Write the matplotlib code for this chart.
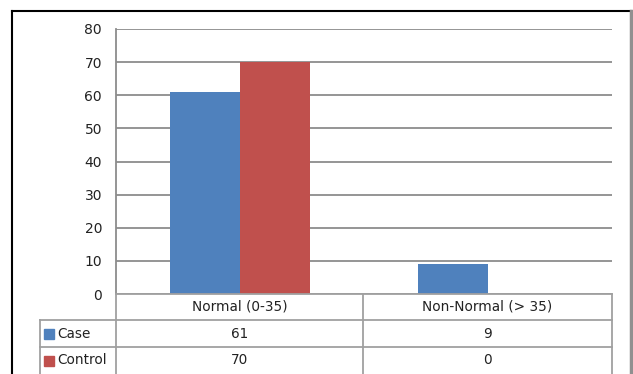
import matplotlib
matplotlib.use('Agg')
import matplotlib.pyplot as plt
from matplotlib.patches import Rectangle
from matplotlib.lines import Line2D

# Data
categories = ['Normal (0-35)', 'Non-Normal (> 35)']
series_names = ['Case', 'Control']
case_values = [61, 9]
control_values = [70, 0]
colors = ['#4F81BD', '#C0504D']

W, H = 633, 374
fig = plt.figure(figsize=(W / 100, H / 100), dpi=100)

def fx(px):
    return px / W

def fy(py):
    return 1 - py / H

# Plot area in pixel coordinates
left, right, top, bottom = 116, 612, 29, 294
ax = fig.add_axes([fx(left), fy(bottom), fx(right - left), fy(top) - fy(bottom)])

x = range(len(categories))
bar_w = 0.283
ax.bar([i - bar_w / 2 for i in x], case_values, width=bar_w, color=colors[0], zorder=3)
ax.bar([i + bar_w / 2 for i in x], control_values, width=bar_w, color=colors[1], zorder=3)

ax.set_xlim(-0.5, len(categories) - 0.5)
ax.set_ylim(0, 80)
ax.set_yticks(range(0, 81, 10))
ax.yaxis.grid(True, color='#8c8c8c', linewidth=1.3, zorder=0)
ax.set_xticks([])
ax.tick_params(axis='y', length=0, pad=10, labelsize=10, labelcolor='#222222')
for s in ['top', 'right', 'bottom']:
    ax.spines[s].set_visible(False)
ax.spines['left'].set_color('#8c8c8c')
ax.spines['left'].set_linewidth(1.3)

# Data table under the chart
line_col = '#a0a0a0'
row_y = [294, 320, 347, 374]
col_x = [40, 116, 363, 612]

def hline(y, x0, x1):
    fig.add_artist(Line2D([fx(x0), fx(x1)], [fy(y), fy(y)], color=line_col, lw=1.3))

def vline(xp, y0, y1):
    fig.add_artist(Line2D([fx(xp), fx(xp)], [fy(y0), fy(y1)], color=line_col, lw=1.3))

hline(row_y[0], col_x[1], col_x[3])
hline(row_y[1], col_x[0], col_x[3])
hline(row_y[2], col_x[0], col_x[3])
vline(col_x[0], row_y[1], row_y[3])
for xp in col_x[1:]:
    vline(xp, row_y[0], row_y[3])

fs = 9.8
for j, cat in enumerate(categories):
    cx = (col_x[j + 1] + col_x[j + 2]) / 2
    fig.text(fx(cx), fy((row_y[0] + row_y[1]) / 2), cat, ha='center', va='center', fontsize=fs, color='#222222')

table_rows = [case_values, control_values]
for r, (name, vals) in enumerate(zip(series_names, table_rows)):
    cy = (row_y[r + 1] + row_y[r + 2]) / 2
    fig.add_artist(Rectangle((fx(44), fy(cy + 5)), fx(10), fy(cy - 5) - fy(cy + 5), color=colors[r]))
    fig.text(fx(57), fy(cy), name, ha='left', va='center', fontsize=fs, color='#222222')
    for j, v in enumerate(vals):
        cx = (col_x[j + 1] + col_x[j + 2]) / 2
        fig.text(fx(cx), fy(cy), str(v), ha='center', va='center', fontsize=fs, color='#222222')

# Outer chart border
fig.add_artist(Line2D([fx(12), fx(12)], [fy(11), fy(374)], color='black', lw=1.5))
fig.add_artist(Line2D([fx(12), fx(631)], [fy(11), fy(11)], color='black', lw=1.5))
fig.add_artist(Line2D([fx(631), fx(631)], [fy(11), fy(374)], color='#909090', lw=2.5))

fig.savefig('out.png', dpi=100)
